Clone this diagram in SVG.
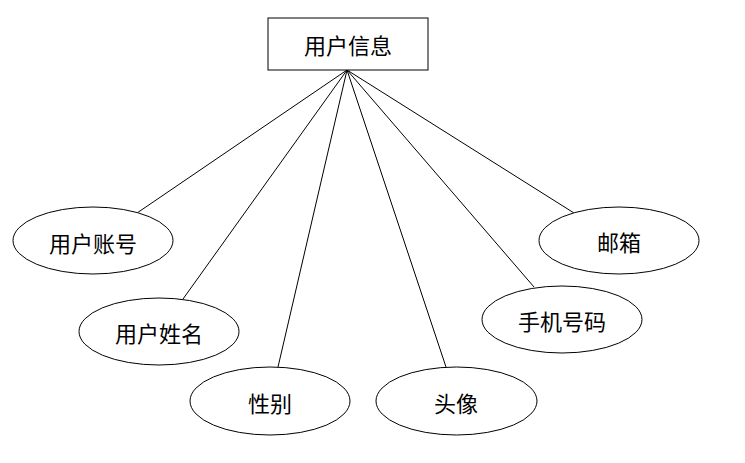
<svg xmlns="http://www.w3.org/2000/svg" width="745" height="463" viewBox="0 0 745 463">
<style>
.n{fill:#fff;stroke:#000;stroke-width:1}
.t{font-family:"Noto Sans CJK SC","Liberation Sans",sans-serif;font-size:22px;fill:#000;text-anchor:middle;dominant-baseline:central}
.c line{stroke:#000;stroke-width:1}
</style>
<rect width="745" height="463" fill="#fff"/>
<g class="c" id="connectors">
<line x1="347" y1="70" x2="137" y2="213"/>
<line x1="347" y1="70" x2="183" y2="299"/>
<line x1="347" y1="70" x2="278" y2="367"/>
<line x1="347" y1="70" x2="446" y2="367"/>
<line x1="347" y1="70" x2="534" y2="287"/>
<line x1="347" y1="70" x2="574" y2="213"/>
</g>
<g id="user-info"><rect class="n" x="268" y="18" width="160" height="52"/><text class="t" x="348" y="44">用户信息</text></g>
<g id="account"><ellipse class="n" cx="93" cy="240.5" rx="80" ry="33.5"/><text class="t" x="93" y="242">用户账号</text></g>
<g id="name"><ellipse class="n" cx="159" cy="331.5" rx="80" ry="33.5"/><text class="t" x="159" y="332">用户姓名</text></g>
<g id="gender"><ellipse class="n" cx="270" cy="401" rx="80" ry="34"/><text class="t" x="270" y="402">性别</text></g>
<g id="avatar"><ellipse class="n" cx="456.5" cy="401" rx="80.5" ry="34"/><text class="t" x="456" y="402">头像</text></g>
<g id="phone"><ellipse class="n" cx="562" cy="319.5" rx="80" ry="33.5"/><text class="t" x="562" y="320">手机号码</text></g>
<g id="email"><ellipse class="n" cx="619" cy="240.5" rx="80" ry="33.5"/><text class="t" x="619" y="241">邮箱</text></g>
</svg>
